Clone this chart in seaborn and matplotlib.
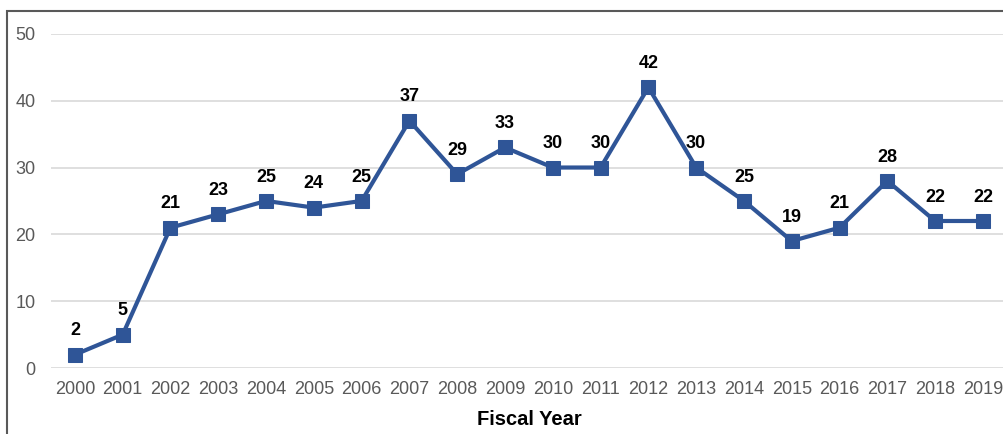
import matplotlib
matplotlib.use("Agg")
from matplotlib import pyplot as plt
from matplotlib.patches import Rectangle
import pandas as pd
import seaborn as sns

years = [str(y) for y in range(2000, 2020)]
counts = [2, 5, 21, 23, 25, 24, 25, 37, 29, 33, 30, 30, 42, 30, 25, 19, 21, 28, 22, 22]

df = pd.DataFrame({"year": years, "count": counts})

sns.set_style("white")
plt.rcParams["font.family"] = ["Liberation Sans", "DejaVu Sans"]

line_color = "#2F5597"
grey = "#595959"

fig = plt.figure(figsize=(10.04, 4.34), dpi=100)
ax = fig.add_axes([0.0508, 0.152, 0.952, 0.770])

# outer frame, cut off at the right and bottom like the source image
fig.patches.append(Rectangle((0.007, -0.05), 1.2, 1.0247,
                             transform=fig.transFigure, fill=False,
                             edgecolor="#595959", linewidth=1.5))

x = list(range(len(years)))
sns.lineplot(x=x, y=df["count"], ax=ax, color=line_color, linewidth=3,
             marker="s", markersize=10, markeredgecolor=line_color)

for xi, v in zip(x, counts):
    ax.annotate(str(v), (xi, v), xytext=(0, 11), textcoords="offset points",
                ha="center", va="bottom", fontsize=13, fontweight="bold",
                color="black")

ax.set_xlim(-0.5, len(years) - 0.5)
ax.set_ylim(0, 50)
ax.set_yticks(range(0, 51, 10))
ax.set_xticks(x)
ax.set_xticklabels(years)
ax.yaxis.grid(True, color="#d9d9d9", linewidth=1.2)
ax.set_axisbelow(True)
for s in ax.spines.values():
    s.set_visible(False)
ax.tick_params(axis="both", length=0, labelsize=13, labelcolor=grey)
ax.tick_params(axis="y", pad=11)
ax.tick_params(axis="x", pad=9)
ax.set_ylabel("")
ax.set_xlabel("Fiscal Year", fontsize=14.5, fontweight="bold", color="black",
              labelpad=9)

fig.savefig("out.png", dpi=100)
